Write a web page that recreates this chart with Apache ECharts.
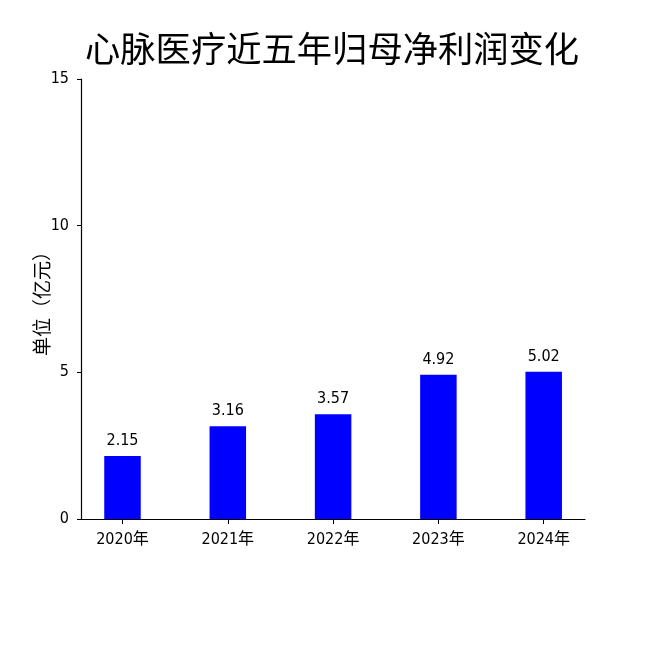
<!DOCTYPE html>
<html>
<head>
<meta charset="utf-8">
<script src="https://cdn.jsdelivr.net/npm/echarts@6/dist/echarts.min.js"></script>
<style>
html,body{margin:0;padding:0;background:#fff;}
#main{width:650px;height:650px;}
</style>
</head>
<body>
<div id="main"></div>
<script>
var titleText = '心脉医疗近五年归母净利润变化';
var categories = ['2020年', '2021年', '2022年', '2023年', '2024年'];
var profitValues = [2.15, 3.16, 3.57, 4.92, 5.02];
var yAxisName = '单位（亿元）';
var yMin = 0, yMax = 15, yInterval = 5;

var FONT = '"DejaVu Sans Condensed", "Liberation Sans Narrow", "Noto Sans CJK SC", sans-serif';
var chart = echarts.init(document.getElementById('main'), null, {renderer: 'canvas'});
chart.setOption({
  backgroundColor: '#ffffff',
  animation: false,
  title: {
    text: titleText,
    left: 80,
    top: 26,
    textStyle: {fontFamily: '"Noto Sans CJK SC", sans-serif', fontSize: 35.3, fontWeight: 'normal', color: '#000'}
  },
  grid: [
    {left: 69.85, right: 53.65, top: 79, bottom: 131},
    {left: 81, right: 65, top: 79, bottom: 131}
  ],
  xAxis: [
    {
      type: 'category', gridIndex: 0, data: categories,
      axisLine: {show: false},
      axisTick: {show: true, alignWithLabel: true, length: 5, lineStyle: {color: '#000', width: 1}},
      axisLabel: {fontFamily: FONT, fontSize: 16, color: '#000', margin: 13}
    },
    {
      type: 'value', gridIndex: 1, min: 0, max: 1,
      axisLine: {show: true, onZero: false, lineStyle: {color: '#000', width: 1.2}},
      axisTick: {show: false}, axisLabel: {show: false}, splitLine: {show: false}
    }
  ],
  yAxis: [
    {
      type: 'value', gridIndex: 0, min: yMin, max: yMax, interval: yInterval,
      show: false, splitLine: {show: false}
    },
    {
      type: 'value', gridIndex: 1, min: yMin, max: yMax, interval: yInterval,
      name: yAxisName, nameLocation: 'middle', nameRotate: 90, nameGap: 30,
      nameMoveOverlap: false,
      nameTextStyle: {fontFamily: '"Noto Sans CJK SC", sans-serif', fontSize: 19, color: '#000'},
      axisLine: {show: true, lineStyle: {color: '#000', width: 1.2}},
      axisTick: {show: true, length: 4, lineStyle: {color: '#000', width: 1}},
      axisLabel: {fontFamily: FONT, fontSize: 16, color: '#000', margin: 12},
      splitLine: {show: false}
    }
  ],
  series: [
    {
      type: 'bar', xAxisIndex: 0, yAxisIndex: 0,
      data: profitValues, barWidth: 36.5,
      itemStyle: {color: '#0000ff'},
      label: {show: true, position: 'top', distance: 7, fontFamily: FONT, fontSize: 16, color: '#000'}
    }
  ]
});
</script>
</body>
</html>
